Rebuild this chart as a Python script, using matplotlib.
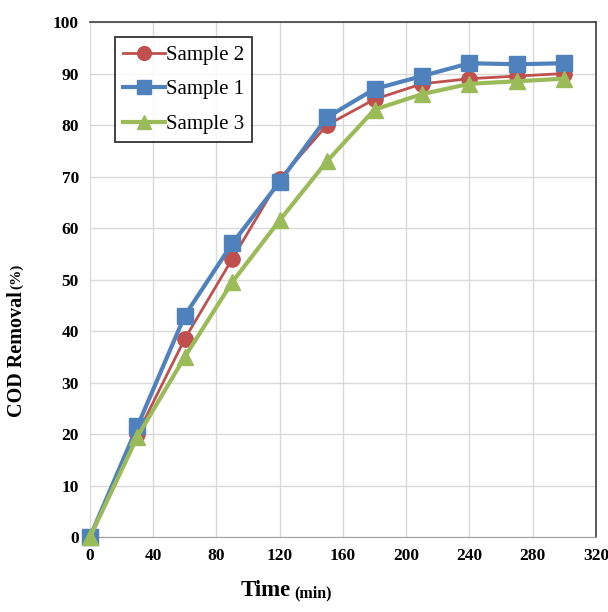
import matplotlib
matplotlib.use("Agg")
import matplotlib.pyplot as plt

plt.rcParams["font.family"] = ["Liberation Serif", "DejaVu Serif"]

time_min = [0, 30, 60, 90, 120, 150, 180, 210, 240, 270, 300]
sample1 = [0, 21.5, 43, 57, 69, 81.5, 87, 89.5, 92, 91.8, 92]
sample2 = [0, 20, 38.5, 54, 69.5, 80, 85, 88, 89, 89.5, 90]
sample3 = [0, 19.5, 35, 49.5, 61.5, 73, 83, 86, 88, 88.5, 89]

fig = plt.figure(figsize=(6.08, 6.12), dpi=100)
ax = fig.add_axes([0.148, 0.1225, 0.832, 0.8415])

ax.plot(time_min, sample2, color="#C0504D", marker="o", ms=11, lw=2, label="Sample 2", clip_on=False, zorder=3)
ax.plot(time_min, sample1, color="#4F81BD", marker="s", ms=11, lw=3, label="Sample 1", clip_on=False, zorder=4)
ax.plot(time_min, sample3, color="#9BBB59", marker="^", ms=11, lw=3, label="Sample 3", clip_on=False, zorder=5)

ax.set_xlim(0, 320); ax.set_ylim(0, 100)
ax.set_xticks(range(0, 321, 40)); ax.set_yticks(range(0, 101, 10))
ax.grid(color="#d9d9d9", lw=1)
ax.set_axisbelow(True)
ax.tick_params(length=0, labelsize=12.5, pad=8)
for lab in ax.get_xticklabels() + ax.get_yticklabels():
    lab.set_fontweight("bold")
for s in ["top", "right"]:
    ax.spines[s].set_color("#404040"); ax.spines[s].set_linewidth(1.2)
ax.spines["left"].set_visible(False)
ax.spines["bottom"].set_color("#a0a0a0")

leg = ax.legend(loc="upper left", bbox_to_anchor=(0.049, 0.971), borderaxespad=0, fontsize=15,
                frameon=True, fancybox=False, edgecolor="black", handlelength=2.0,
                handletextpad=0.05, borderpad=0.4, labelspacing=0.72, markerscale=0.9)
leg.get_frame().set_linewidth(1.3)

fig.text(0.478, 0.018, "Time", fontsize=16.5, fontweight="bold", ha="right", va="bottom")
fig.text(0.484, 0.018, "(min)", fontsize=11.5, fontweight="bold", ha="left", va="bottom")
fig.text(0.028, 0.525, "COD Removal", fontsize=14.5, fontweight="bold", rotation=90, ha="center", va="top")
fig.text(0.028, 0.528, "(%)", fontsize=11, fontweight="bold", rotation=90, ha="center", va="bottom")

fig.savefig("out.png", dpi=100)
